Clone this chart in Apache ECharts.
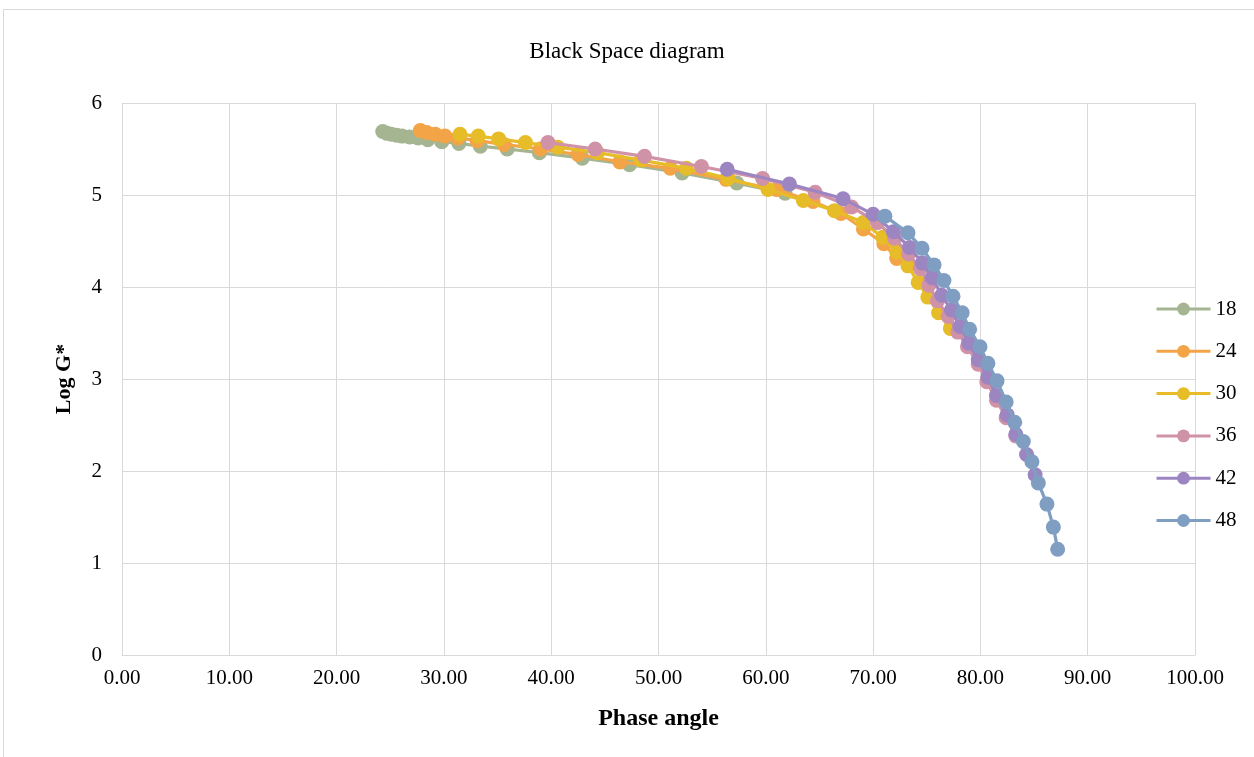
<!DOCTYPE html>
<html>
<head>
<meta charset="utf-8">
<script src="https://cdn.jsdelivr.net/npm/echarts@6/dist/echarts.min.js"></script>
<style>html,body{margin:0;padding:0;background:#fff;}#c{width:1254px;height:757px;}</style>
</head>
<body>
<div id="c"></div>
<script>
const seriesNames = ['18', '24', '30', '36', '42', '48'];
const colors = ['#A5B592', '#F3A447', '#E7BC29', '#D092A7', '#9C85C0', '#809EC2'];
const xTicks = [0, 10, 20, 30, 40, 50, 60, 70, 80, 90, 100];
const yTicks = [0, 1, 2, 3, 4, 5, 6];

const s18 = [[24.3,5.69],[24.7,5.67],[25.1,5.66],[25.6,5.65],[26.1,5.64],[26.8,5.63],[27.6,5.62],[28.5,5.60],[29.8,5.58],[31.4,5.56],[33.4,5.53],[35.9,5.50],[38.9,5.46],[42.9,5.40],[47.3,5.33],[52.2,5.24],[57.3,5.13],[61.8,5.02]];
const s24 = [[27.8,5.70],[28.4,5.68],[29.2,5.66],[30.1,5.64],[31.3,5.62],[33.1,5.59],[35.6,5.55],[39.0,5.50],[42.5,5.44],[46.4,5.36],[51.1,5.29],[56.3,5.17],[61.0,5.06],[64.4,4.93],[67.0,4.80],[69.1,4.63],[71.0,4.47],[72.2,4.31]];
const s30 = [[31.5,5.66],[33.2,5.64],[35.1,5.61],[37.6,5.57],[40.6,5.52],[44.3,5.46],[48.4,5.38],[52.6,5.29],[56.5,5.18],[60.2,5.06],[63.5,4.94],[66.4,4.83],[69.1,4.70],[70.9,4.54],[72.2,4.38],[73.25,4.23],[74.2,4.05],[75.1,3.89],[76.1,3.72],[77.2,3.55]];
const s36 = [[39.7,5.57],[44.1,5.50],[48.7,5.42],[54.0,5.31],[59.7,5.18],[64.6,5.03],[68.0,4.87],[70.4,4.70],[72.0,4.53],[73.3,4.36],[74.4,4.20],[75.2,4.02],[76.0,3.85],[77.0,3.68],[77.9,3.51],[78.8,3.35],[79.8,3.16],[80.6,2.97],[81.5,2.77],[82.4,2.58],[83.3,2.38]];
const s42 = [[56.4,5.28],[62.2,5.12],[67.2,4.96],[70.0,4.79],[71.9,4.60],[73.4,4.43],[74.6,4.26],[75.5,4.10],[76.4,3.91],[77.3,3.75],[78.1,3.57],[78.9,3.39],[79.8,3.21],[80.7,3.02],[81.5,2.82],[82.5,2.61],[83.3,2.40],[84.3,2.18],[85.1,1.96]];
const s48 = [[71.1,4.77],[73.25,4.59],[74.56,4.42],[75.68,4.24],[76.6,4.07],[77.45,3.90],[78.3,3.72],[79.0,3.54],[79.96,3.35],[80.7,3.17],[81.55,2.98],[82.4,2.75],[83.2,2.53],[84.0,2.32],[84.8,2.10],[85.4,1.87],[86.2,1.64],[86.8,1.39],[87.2,1.15]];
const allData = [s18, s24, s30, s36, s42, s48];

const font = '"Liberation Serif", "Times New Roman", serif';
const chart = echarts.init(document.getElementById('c'), null, {renderer: 'canvas'});
chart.setOption({
  animation: false,
  backgroundColor: '#fff',
  graphic: [{
    type: 'rect', silent: true, z: -10,
    shape: {x: 3.5, y: 9.5, width: 1300, height: 800},
    style: {fill: 'none', stroke: '#d9d9d9', lineWidth: 1}
  }],
  title: {
    text: 'Black Space diagram', left: 'center', top: 35,
    textStyle: {fontFamily: font, fontSize: 23, fontWeight: 'normal', color: '#000'}
  },
  legend: {
    orient: 'vertical', left: 1150, top: 293.5,
    itemWidth: 54, itemHeight: 16, itemGap: 21.3,
    data: seriesNames,
    lineStyle: {width: 3},
    textStyle: {fontFamily: font, fontSize: 21, color: '#000'}
  },
  grid: {left: 122, right: 59, top: 103, bottom: 102, containLabel: false},
  xAxis: {
    type: 'value', min: xTicks[0], max: xTicks[xTicks.length - 1], interval: 10,
    name: 'Phase angle', nameLocation: 'middle', nameGap: 52,
    nameTextStyle: {fontFamily: font, fontSize: 24, fontWeight: 'bold', color: '#000'},
    axisLine: {show: true, lineStyle: {color: '#d9d9d9', width: 1}},
    axisTick: {show: false},
    axisLabel: {fontFamily: font, fontSize: 21, color: '#000', margin: 13, formatter: v => v.toFixed(2)},
    splitLine: {show: true, lineStyle: {color: '#d9d9d9', width: 1}}
  },
  yAxis: {
    type: 'value', min: yTicks[0], max: yTicks[yTicks.length - 1], interval: 1,
    name: 'Log G*', nameLocation: 'middle', nameGap: 47, nameRotate: 90,
    nameTextStyle: {fontFamily: font, fontSize: 22, fontWeight: 'bold', color: '#000'},
    axisLine: {show: false},
    axisTick: {show: false},
    axisLabel: {fontFamily: font, fontSize: 21, color: '#000', margin: 20},
    splitLine: {show: true, lineStyle: {color: '#d9d9d9', width: 1}}
  },
  series: seriesNames.map((n, i) => ({
    name: n, type: 'line', data: allData[i],
    symbol: 'circle', symbolSize: 15, showSymbol: true,
    lineStyle: {color: colors[i], width: 3.25},
    itemStyle: {color: colors[i]},
    z: 2 + i
  }))
});
</script>
</body>
</html>
